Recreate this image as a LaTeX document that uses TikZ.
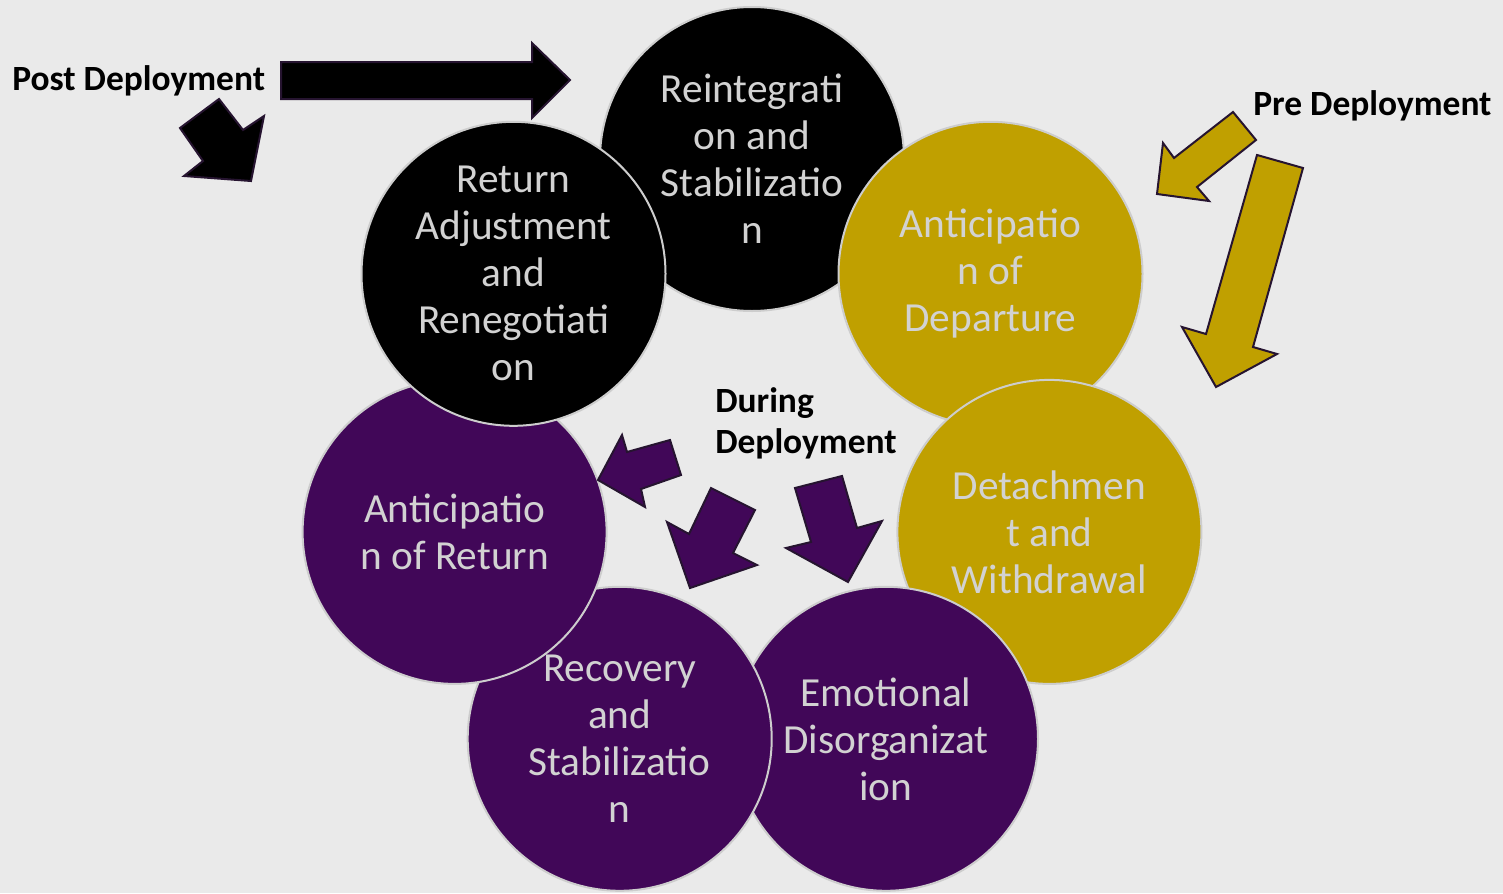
\documentclass[tikz,border=0pt]{standalone}
\usepackage{fontspec}
\setmainfont{Carlito}
\definecolor{bg}{RGB}{234,234,234}
\definecolor{gold}{RGB}{192,160,0}
\definecolor{purp}{RGB}{65,7,88}
\definecolor{ringc}{RGB}{205,205,205}
\definecolor{txtc}{RGB}{210,210,210}
\definecolor{edgedark}{RGB}{38,20,48}
\begin{document}
\begin{tikzpicture}[x=0.75pt,y=-0.75pt,
  phase/.style={circle, draw=ringc, line width=1.5pt, minimum size=228pt, inner sep=0pt,
    text=txtc, align=center, font=\fontsize{31}{35.25}\selectfont},
  lbl/.style={inner sep=0pt, text=black, font=\bfseries\fontsize{26.6}{30.75}\selectfont},
  blockarrow/.style={draw=edgedark, line width=1.5pt, line join=miter}]
\fill[bg] (0,0) rectangle (1503,893);
\useasboundingbox (0,0) rectangle (1503,893);

% circles, drawn in stacking order
\node[phase, fill=black] (reint) at (752,159) {Reintegrati\\on and\\Stabilizatio\\n};
\node[phase, fill=gold] (antdep) at (990.5,273.8) {Anticipatio\\n of\\Departure};
\node[phase, fill=gold] (detach) at (1049.4,531.9) {Detachmen\\t and\\Withdrawal};
\node[phase, fill=purp] (emot) at (886,738.8) {Emotional\\Disorganizat\\ion};
\node[phase, fill=purp] (recov) at (619.7,738.8) {Recovery\\and\\Stabilizatio\\n};
\node[phase, fill=purp] (antret) at (454.6,531.9) {Anticipatio\\n of Return};
\node[phase, fill=black] (retadj) at (513.5,273.8) {Return\\Adjustment\\and\\Renegotiati\\on};

% post deployment arrows
\filldraw[blockarrow, fill=black] (281,62) -- (532,62) -- (532,43) -- (570,80) -- (532,118) -- (532,99) -- (281,99) -- cycle;
\filldraw[blockarrow, fill=black] (180,128) -- (219,99) -- (243,130) -- (264,116) -- (251,181) -- (184,176) -- (203,161) -- cycle;

% pre deployment arrows
\filldraw[blockarrow, fill=gold] (1233,112) -- (1256,140) -- (1197,187) -- (1209,201) -- (1157,194) -- (1163,143) -- (1174,158) -- cycle;
\filldraw[blockarrow, fill=gold] (1257,155) -- (1303,168) -- (1253,347) -- (1277,354) -- (1216,387) -- (1182,327) -- (1206,334) -- cycle;

% during deployment arrows
\filldraw[blockarrow, fill=purp] (598,480) -- (622,435) -- (627,452) -- (670,440) -- (681,475) -- (641,489) -- (645,507) -- cycle;
\filldraw[blockarrow, fill=purp] (711,488) -- (755,510) -- (733,553) -- (757,565) -- (690,588) -- (667,522) -- (689,534) -- cycle;
\filldraw[blockarrow, fill=purp] (795,488) -- (842,476) -- (857,528) -- (882,521) -- (848,582) -- (786,548) -- (811,542) -- cycle;

% labels
\node[lbl, anchor=base west] (post) at (12,90) {Post Deployment};
\node[lbl, anchor=base west] (pre) at (1253,115) {Pre Deployment};
\node[lbl, anchor=base west, align=left] (during) at (715,453) {During\\Deployment};
\end{tikzpicture}
\end{document}
